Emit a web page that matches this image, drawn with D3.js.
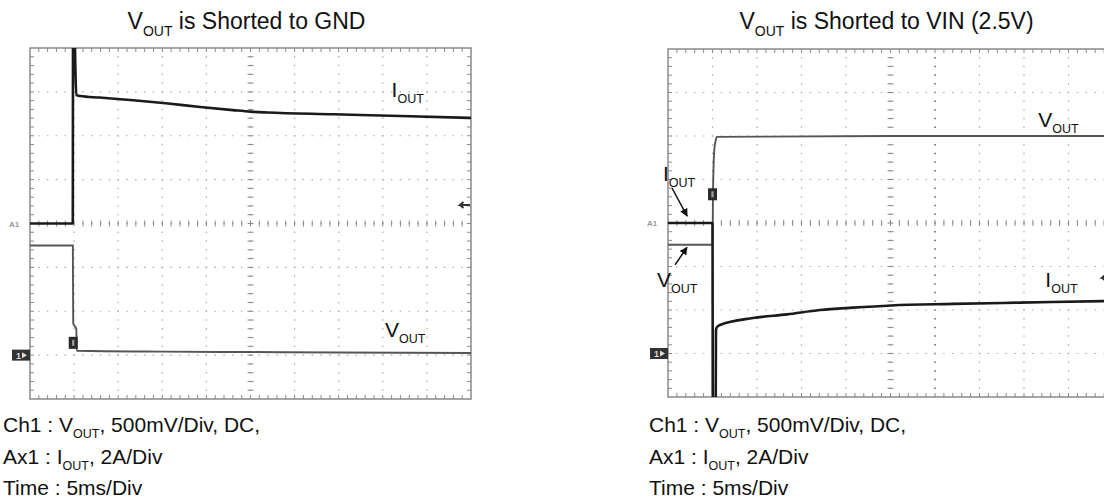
<!DOCTYPE html>
<html>
<head>
<meta charset="utf-8">
<script src="https://cdn.jsdelivr.net/npm/d3@7"></script>
<style>
  body { margin: 0; background: #fff; }
  text { font-family: Arial, "Liberation Sans", sans-serif; fill: #111; }
</style>
</head>
<body>
<div id="graph"></div>
<script>
// scope captures, time in ms (5ms/div, 10 div), current in A (2A/div), voltage in V (500mV/div)

// V_OUT shorted to GND
var gndIout = [[0, 0], [4.85, 0], [4.88, 9.5], [4.98, 9.5], [5.25, 5.85], [5.7, 5.81], [7.9, 5.74],
  [11.7, 5.62], [15.4, 5.48], [19.3, 5.31], [23.0, 5.17], [25.0, 5.10], [26.9, 5.06],
  [34.4, 4.98], [42.0, 4.90], [50, 4.81]];
var gndVout = [[0, 1.25], [4.86, 1.25], [4.9, 0.36], [5.25, 0.3], [5.3, 0.05], [15, 0.04],
  [25, 0.035], [35, 0.03], [50, 0.025]];

// V_OUT shorted to VIN (2.5V)
var vinIout = [[0, 0], [5.0, 0], [5.04, -9.5], [5.35, -9.5], [5.39, -4.92], [5.51, -4.78],
  [5.84, -4.69], [9.55, -4.37], [13.37, -4.20], [17.08, -4.00], [20.79, -3.89], [25.06, -3.79],
  [32.02, -3.72], [39.55, -3.66], [48.88, -3.59], [50, -3.58]];
var vinVout = [[0, 1.25], [5.0, 1.25], [5.06, 1.85], [5.2, 2.34], [5.4, 2.47], [5.5, 2.49],
  [25, 2.5], [50, 2.5]];

// trigger markers (t, V) and trigger level arrow (V)
var gndTrig = {t: 4.9, v: 0.14, level: 1.71};
var vinTrig = {t: 5.0, v: 1.83, level: 0.87};

// labels: text parts [main, sub, rest], anchored at (t, value on the named channel)
var gndLabels = [
  {parts: ["I", "OUT", ""], t: 41.0, ch: "i", val: 5.76},
  {parts: ["V", "OUT", ""], t: 40.25, ch: "v", val: 0.205}
];
var vinLabels = [
  {parts: ["V", "OUT", ""], t: 41.6, ch: "v", val: 2.6},
  {parts: ["I", "OUT", ""], t: 42.4, ch: "i", val: -2.94},
  {parts: ["I", "OUT", ""], t: -0.56, ch: "i", val: 1.93},
  {parts: ["V", "OUT", ""], t: -1.24, ch: "v", val: 0.76}
];
// pointer arrows [t0, val0, t1, val1, channel]
var vinArrows = [
  [0.45, 1.61, 2.15, 0.32, "i"],
  [0.8, 1.02, 2.13, 1.22, "v"]
];

var titles = [["V", "OUT", " is Shorted to GND"], ["V", "OUT", " is Shorted to VIN (2.5V)"]];
var notes = [
  ["Ch1 : V", "OUT", ", 500mV/Div, DC,"],
  ["Ax1 : I", "OUT", ", 2A/Div"],
  ["Time : 5ms/Div", "", ""]
];

var svg = d3.select("#graph").append("svg")
  .attr("width", 1104)
  .attr("height", 499);

var defs = svg.append("defs");
defs.append("marker")
  .attr("id", "head")
  .attr("viewBox", "0 0 10 10")
  .attr("refX", 9).attr("refY", 5)
  .attr("markerWidth", 8).attr("markerHeight", 8)
  .attr("markerUnits", "userSpaceOnUse")
  .attr("orient", "auto")
  .append("path").attr("d", "M0,0 L10,5 L0,10 z").attr("fill", "#111");

function subText(sel, parts, size, subSize, shift) {
  sel.style("font-size", size + "px");
  sel.append("tspan").text(parts[0]);
  if (parts[1]) {
    sel.append("tspan").attr("dy", shift).style("font-size", subSize + "px").text(parts[1]);
    if (parts[2]) sel.append("tspan").attr("dy", -shift).text(parts[2]);
  }
  return sel;
}

function panel(id, box, iout, vout, trig, labels, arrows, darkCol) {
  var g = svg.append("g");
  var x = d3.scaleLinear().domain([0, 50]).range([box.x, box.x + box.w]);
  var yI = d3.scaleLinear().domain([-8, 8]).range([box.y + box.h, box.y]);
  var yV = d3.scaleLinear().domain([-0.5, 3.5]).range([box.y + box.h, box.y]);
  var minorX = box.w / 50, minorY = box.h / 40;

  // dotted grid
  var grid = g.append("g").attr("stroke", "#aaa").attr("stroke-width", 1.2);
  d3.range(5, 50, 5).forEach(function(t) {
    grid.append("line")
      .attr("x1", x(t)).attr("x2", x(t))
      .attr("y1", box.y).attr("y2", box.y + box.h)
      .attr("stroke", t === darkCol ? "#666" : "#aaa")
      .attr("stroke-width", t === darkCol ? 1.6 : 1.2)
      .attr("stroke-dasharray", "1.5," + (minorY - 1.5))
      .attr("stroke-dashoffset", 0.75);
  });
  d3.range(-6, 8, 2).forEach(function(a) {
    grid.append("line")
      .attr("x1", box.x).attr("x2", box.x + box.w)
      .attr("y1", yI(a)).attr("y2", yI(a))
      .attr("stroke-dasharray", "1.5," + (minorX - 1.5))
      .attr("stroke-dashoffset", 0.75);
  });

  // minor ticks on centre lines and on the border
  var ticks = g.append("g").attr("stroke", "#888").attr("stroke-width", 1);
  d3.range(1, 50).forEach(function(t) {
    ticks.append("line").attr("x1", x(t)).attr("x2", x(t))
      .attr("y1", yI(0) - 3).attr("y2", yI(0) + 3);
    ticks.append("line").attr("x1", x(t)).attr("x2", x(t))
      .attr("y1", box.y).attr("y2", box.y + 4);
    ticks.append("line").attr("x1", x(t)).attr("x2", x(t))
      .attr("y1", box.y + box.h - 4).attr("y2", box.y + box.h);
  });
  d3.range(-7.6, 8, 0.4).forEach(function(a) {
    ticks.append("line").attr("x1", x(25) - 3).attr("x2", x(25) + 3)
      .attr("y1", yI(a)).attr("y2", yI(a));
    ticks.append("line").attr("x1", box.x).attr("x2", box.x + 4)
      .attr("y1", yI(a)).attr("y2", yI(a));
    ticks.append("line").attr("x1", box.x + box.w - 4).attr("x2", box.x + box.w)
      .attr("y1", yI(a)).attr("y2", yI(a));
  });

  g.append("rect")
    .attr("x", box.x).attr("y", box.y)
    .attr("width", box.w).attr("height", box.h)
    .attr("fill", "none").attr("stroke", "#8a8a8a").attr("stroke-width", 1.5);

  // traces, clipped to the screen
  defs.append("clipPath").attr("id", "clip" + id)
    .append("rect").attr("x", box.x).attr("y", box.y).attr("width", box.w).attr("height", box.h);
  var traces = g.append("g").attr("clip-path", "url(#clip" + id + ")");

  traces.append("path")
    .datum(vout)
    .attr("fill", "none").attr("stroke", "#555").attr("stroke-width", 1.9)
    .attr("d", d3.line().curve(d3.curveMonotoneX)
      .x(function(d) { return x(d[0]); }).y(function(d) { return yV(d[1]); }));
  traces.append("path")
    .datum(iout)
    .attr("fill", "none").attr("stroke", "#1a1a1a").attr("stroke-width", 2.6)
    .attr("d", d3.line().curve(d3.curveMonotoneX)
      .x(function(d) { return x(d[0]); }).y(function(d) { return yI(d[1]); }));

  // trigger position marker
  g.append("rect")
    .attr("x", x(trig.t) - 4.5).attr("y", yV(trig.v) - 6)
    .attr("width", 9).attr("height", 12)
    .attr("fill", "#2a2a2a");
  g.append("rect")
    .attr("x", x(trig.t) - 1.2).attr("y", yV(trig.v) - 3)
    .attr("width", 2.4).attr("height", 6)
    .attr("fill", "#999");

  // trigger level arrow at right edge
  g.append("path")
    .attr("d", "M" + (box.x + box.w - 1) + "," + yV(trig.level) + " h-10 l3.5,-3 m-3.5,3 l3.5,3")
    .attr("stroke", "#333").attr("stroke-width", 2).attr("fill", "none");

  // channel ground marker and A1 reference
  g.append("rect")
    .attr("x", box.x - 18).attr("y", yV(0) - 5.5)
    .attr("width", 18).attr("height", 11).attr("fill", "#333");
  g.append("text")
    .attr("x", box.x - 14).attr("y", yV(0) + 3.5)
    .style("font-size", "9px").style("fill", "#ddd").style("font-weight", "bold")
    .text("1");
  g.append("path")
    .attr("d", "M" + (box.x - 8) + "," + (yV(0) - 3) + " l5,3 l-5,3 z")
    .attr("fill", "#ddd");
  g.append("text")
    .attr("x", box.x - 21).attr("y", yI(0) + 3)
    .style("font-size", "8px").style("fill", "#999").style("font-weight", "bold")
    .text("A1");

  // labels
  labels.forEach(function(l) {
    var yy = l.ch === "i" ? yI(l.val) : yV(l.val);
    subText(g.append("text").attr("x", x(l.t)).attr("y", yy), l.parts, 21, 12.5, 6);
  });
  arrows.forEach(function(a) {
    var yy = a[4] === "i" ? yI : yV;
    g.append("line")
      .attr("x1", x(a[0])).attr("y1", yy(a[1]))
      .attr("x2", x(a[2])).attr("y2", yy(a[3]))
      .attr("stroke", "#111").attr("stroke-width", 1.5)
      .attr("marker-end", "url(#head)");
  });

  // title
  subText(svg.append("text")
    .attr("x", x(25) - 4).attr("y", 29)
    .attr("text-anchor", "middle"), titles[id], 23, 14, 7);

  // notes below the screen
  notes.forEach(function(n, i) {
    subText(svg.append("text")
      .attr("x", box.x - 27 + (id === 1 ? 8 : 0)).attr("y", 432 + i * 31.5), n, 21, 12.5, 6);
  });
}

panel(0, {x: 30, y: 48, w: 441, h: 351}, gndIout, gndVout, gndTrig, gndLabels, [], null);
panel(1, {x: 668, y: 49, w: 445, h: 348}, vinIout, vinVout, vinTrig, vinLabels, vinArrows, 30);
</script>
</body>
</html>
